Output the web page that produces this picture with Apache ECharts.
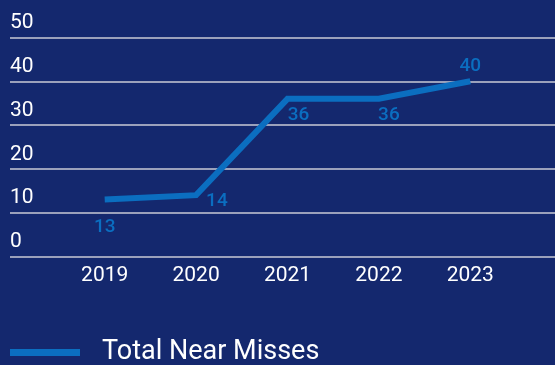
<!DOCTYPE html>
<html>
<head>
<meta charset="utf-8">
<script src="https://cdn.jsdelivr.net/npm/echarts@6/dist/echarts.min.js"></script>
<style>
html,body{margin:0;padding:0;background:#14286e;}
#c{width:555px;height:365px;}
</style>
</head>
<body>
<div id="c"></div>
<script>
var categories = ['2019', '2020', '2021', '2022', '2023'];
var nearMisses = [13, 14, 36, 36, 40];
var seriesName = 'Total Near Misses';
var yTicks = [0, 10, 20, 30, 40, 50];

var labelLayouts = [
  { position: 'bottom', offset: [0, 12] },
  { position: 'right', offset: [4, 6] },
  { position: 'bottom', offset: [11, 1] },
  { position: 'bottom', offset: [10, 1] },
  { position: 'top', offset: [0, 0] }
];

var lineColor = '#0b6ec0';
var font = 'Roboto';

var chart = echarts.init(document.getElementById('c'), null, { renderer: 'canvas' });
chart.setOption({
  backgroundColor: '#14286e',
  animation: false,
  grid: [
    { left: 10, right: 0, top: 37.5, bottom: 108.5 },
    { left: 59, right: 39, top: 37.5, bottom: 108.5 }
  ],
  xAxis: [
    { type: 'value', gridIndex: 0, show: false, min: 0, max: 1 },
    {
      type: 'category', gridIndex: 1, data: categories, boundaryGap: true,
      axisLine: { show: false }, axisTick: { show: false },
      axisLabel: { color: '#ffffff', fontFamily: font, fontSize: 21, margin: 9 }
    }
  ],
  yAxis: [
    {
      type: 'value', gridIndex: 0, min: yTicks[0], max: yTicks[yTicks.length - 1], interval: 10,
      axisLine: { show: false }, axisTick: { show: false },
      axisLabel: {
        inside: true, margin: 0, color: '#ffffff', fontFamily: font, fontSize: 21,
        verticalAlign: 'bottom', align: 'left', padding: [0, 0, 4, 0]
      },
      splitLine: { lineStyle: { color: '#c8cad6', width: 1.5 } }
    },
    {
      type: 'value', gridIndex: 1, min: yTicks[0], max: yTicks[yTicks.length - 1], interval: 10,
      show: false, splitLine: { show: false }
    }
  ],
  legend: {
    left: 10, top: 339, padding: 0,
    icon: 'rect', itemWidth: 70, itemHeight: 7,
    data: [seriesName],
    textStyle: { color: '#ffffff', fontFamily: font, fontSize: 27, padding: [0, 0, 0, 17] }
  },
  series: [{
    name: seriesName,
    type: 'line',
    xAxisIndex: 1, yAxisIndex: 1,
    data: nearMisses.map(function (v, i) {
      return { value: v, label: labelLayouts[i] };
    }),
    symbol: 'circle',
    symbolSize: 0,
    showSymbol: true,
    lineStyle: { color: lineColor, width: 6, join: 'miter' },
    itemStyle: { color: lineColor },
    label: { show: true, color: '#0b6ec0', fontFamily: font, fontSize: 19, fontWeight: 500, distance: 6 }
  }]
});
</script>
</body>
</html>
